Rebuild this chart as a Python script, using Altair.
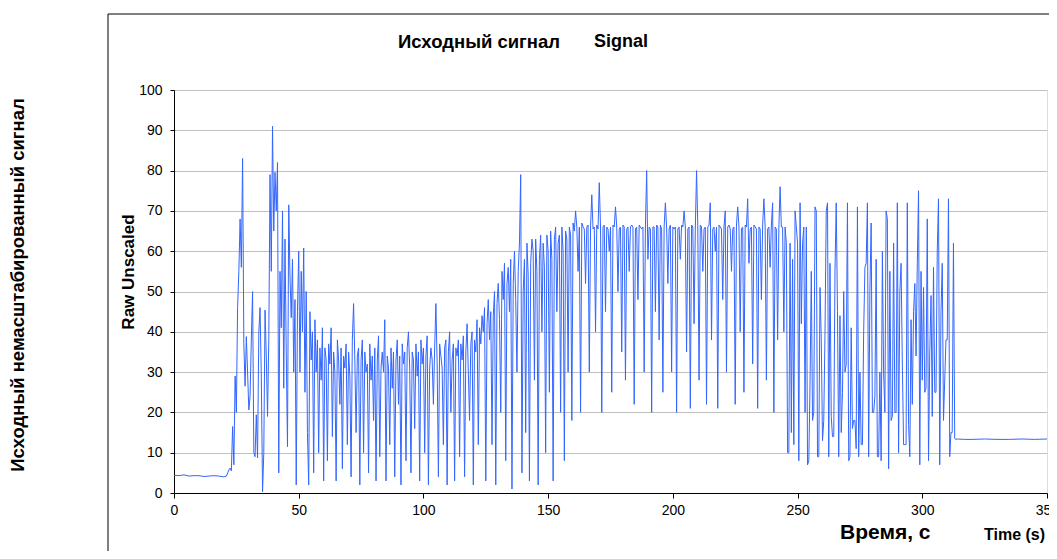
import altair as alt
import pandas as pd

# ---- data (time in s, raw value) ----
# flat start and first small bumps
start_t = [0, 2, 4, 6, 8, 10, 12, 14, 16, 18, 20, 21, 22, 22.5, 23, 23.5]
start_v = [4.4, 4.3, 4.5, 4.2, 4.3, 4.3, 4.1, 4.2, 4.3, 4.2, 4.0, 4.2, 5.7, 6.2, 5.5, 16.5]

# dense part, sampled every 0.5 s, each list covers 10 s starting at the given time
v024 = [7, 29, 20, 46, 55, 68, 56, 83, 37, 26.5, 38.8, 30, 20.6, 24, 38, 50, 10, 9, 19.4, 8.7]
v034 = [39.7, 46, 29, 0.3, 10, 45.4, 34, 19, 38, 79, 55, 91, 65, 79.6, 70, 82, 5, 55, 41, 70]
v044 = [26, 63, 35, 11.5, 71.5, 54, 43.5, 58, 30, 48, 2, 45, 60, 30, 55, 40, 60.8, 25, 50, 15]
v054 = [2, 45, 33, 40, 5, 43, 30, 38, 10, 36, 28, 41, 3, 36, 33, 8, 37, 32, 41, 14]
v064 = [35, 30, 3, 38, 33, 22, 36, 6, 34, 31, 37, 12, 35, 29, 4, 38, 47, 33, 15, 34]
v074 = [36, 2, 33, 38, 10, 35, 30, 32, 5, 37, 28, 34, 18, 36, 3, 33, 39, 9, 31, 35]
v084 = [30, 43, 3, 34, 31, 12, 36, 26, 35, 4, 33, 38, 22, 34, 2, 37, 32, 35, 8, 36]
v094 = [40, 31, 5, 35, 33, 16, 37, 29, 35, 3, 38, 32, 36, 10, 34, 39, 2, 31, 36, 33]
v104 = [22, 36, 47, 32, 4, 37, 34, 31, 12, 36, 38, 2, 35, 40, 20, 33, 37, 3, 36, 34]
v114 = [38, 9, 37, 33, 39, 4, 35, 42, 30, 18, 37, 40, 2, 38, 35, 43, 12, 41, 37, 44]
v124 = [40, 46, 3, 42, 48, 38, 45, 12, 44, 50, 2, 47, 52, 43, 20, 55, 48, 57, 8, 52]
v134 = [56, 45, 58, 1, 52, 60, 48, 30, 55, 62, 79, 5, 50, 58, 15, 62, 54, 3, 57, 63]
v144 = [60, 28, 63, 55, 2, 58, 64, 40, 62, 56, 10, 64, 60, 25, 65, 58, 3, 63, 66, 45]
v154 = [62, 64, 20, 66, 60, 8, 65, 63, 30, 66, 64, 18, 67, 65, 70, 66, 55, 66, 20, 67]
v164 = [66, 65.5, 52, 66, 66.5, 30, 66, 74, 65.5, 66, 40, 66.5, 65.5, 77, 66, 20, 66, 66.5, 45, 66]
v174 = [65.5, 60, 66, 25, 66.5, 66, 71, 66, 50, 65.5, 66, 35, 66.5, 66, 28, 65.5, 66, 55, 66, 66.5]
v184 = [66, 22, 65.5, 66, 48, 66.5, 66, 65.5, 66, 30, 66, 80, 58, 66, 65.5, 20, 66, 66, 45, 66.5]
v194 = [66, 38, 66.5, 65.5, 25, 66, 72, 66, 52, 65.5, 66.5, 30, 66, 65.5, 66, 20, 65.5, 66, 58, 66.5]
v204 = [66, 70, 66, 35, 65.5, 66, 21, 66.5, 66, 42, 65.5, 80, 66, 28, 66.5, 66, 55, 65.5, 66, 22]
v214 = [66, 66.5, 72, 38, 65.5, 66, 60, 66, 21, 66.5, 66, 65.5, 48, 66, 70, 30, 66, 66.5, 65.5, 55]
v224 = [65.5, 66, 22, 66.5, 71, 66, 40, 65.5, 66, 25, 66.5, 66, 73, 57, 65.5, 66, 32, 66.5, 66, 65.5]
v234 = [21, 66, 65.5, 48, 66.5, 73, 66, 28, 65.5, 66, 56, 66.5, 72, 20, 66, 65.5, 38, 66, 76, 66]
v244 = [66, 40, 66, 62, 10, 10, 62, 15, 58, 12, 70, 66, 62, 8, 72, 42, 62, 66, 20, 66]
v254 = [7, 8, 27, 55, 18, 20, 71, 70, 9, 9, 51, 38, 13, 18, 40, 70, 72, 9, 57, 19]
v264 = [14, 14, 55, 72, 45, 9, 44, 15, 25, 50, 30, 32, 72, 8, 9, 41, 16, 18, 18, 11]
v274 = [71, 9, 30, 12, 12, 40, 56, 57, 72, 9, 50, 67, 20, 20, 24, 58, 9, 9, 30, 8]
v284 = [60, 30, 20, 70, 68, 6, 55, 18, 19, 62, 20, 20, 72, 10, 50, 57, 32, 12, 12, 12]
v294 = [72, 17, 9, 43, 22, 45, 52, 34, 57, 75, 7, 55, 28, 51, 25, 26, 68, 8, 35, 49]
v304 = [19, 56, 25, 25, 60, 73, 7, 45, 57, 18, 28, 38, 38, 73, 9, 15, 15, 62, 13.5, 13.3]

# flat end
end_t = [314, 317, 320, 325, 330, 335, 340, 345, 350]
end_v = [13.4, 13.3, 13.3, 13.4, 13.3, 13.3, 13.4, 13.3, 13.4]

segments = [
    (24, v024), (34, v034), (44, v044), (54, v054), (64, v064), (74, v074),
    (84, v084), (94, v094), (104, v104), (114, v114), (124, v124), (134, v134),
    (144, v144), (154, v154), (164, v164), (174, v174), (184, v184), (194, v194),
    (204, v204), (214, v214), (224, v224), (234, v234), (244, v244), (254, v254),
    (264, v264), (274, v274), (284, v284), (294, v294), (304, v304),
]

x_ticks = [0, 50, 100, 150, 200, 250, 300, 350]
y_ticks = [0, 10, 20, 30, 40, 50, 60, 70, 80, 90, 100]

T, V = list(start_t), list(start_v)
for t0, vals in segments:
    for i, val in enumerate(vals):
        T.append(t0 + 0.5 * i)
        V.append(val)
T += end_t
V += end_v
df = pd.DataFrame({"t": T, "v": V})

FONT = "Liberation Sans"
W, H = 873, 403

line = alt.Chart(df).mark_line(color="#3366FF", strokeWidth=1).encode(
    x=alt.X("t:Q", scale=alt.Scale(domain=[0, 350], nice=False, zero=False),
            axis=alt.Axis(values=x_ticks, title=None, grid=False, labelFontSize=14,
                          labelFont=FONT, labelColor="#000000", domainColor="#000000",
                          tickColor="#000000", tickSize=5, labelPadding=5,
                          labelFlush=False, labelOverlap=False)),
    y=alt.Y("v:Q", scale=alt.Scale(domain=[0, 100], nice=False),
            axis=alt.Axis(values=y_ticks, title=None, grid=True, gridColor="#c0c0c0",
                          labelFontSize=14, labelFont=FONT, labelColor="#000000",
                          domainColor="#000000", tickColor="#000000", tickSize=4,
                          labelPadding=8, labelOverlap=False)),
)

one = pd.DataFrame({"a": [0]})

def label(text, x, y, size, angle=0, align="left"):
    return alt.Chart(one).mark_text(
        text=text, font=FONT, fontSize=size, fontWeight="bold", color="#000000",
        angle=angle, align=align, baseline="middle",
    ).encode(x=alt.value(x), y=alt.value(y))

frame_left = alt.Chart(one).mark_rule(color="#000000", strokeWidth=1).encode(
    x=alt.value(-66), y=alt.value(-76), y2=alt.value(480))
frame_top = alt.Chart(one).mark_rule(color="#000000", strokeWidth=1).encode(
    x=alt.value(-66), x2=alt.value(900), y=alt.value(-76))

chart = alt.layer(
    line,
    frame_left,
    frame_top,
    label("Исходный немасштабированный сигнал", -156, 195, 18.5, angle=270, align="center"),
    label("Исходный сигнал", 224, -48, 18.5),
    label("Signal", 420, -48, 18),
    label("Raw Unscaled", -45, 182, 17, angle=270, align="center"),
    label("Время, с", 666, 443, 21),
    label("Time (s)", 810, 445, 16),
).properties(
    width=W, height=H,
    autosize=alt.AutoSizeParams(type="none"),
    padding={"left": 166, "top": 82, "right": 2, "bottom": 58},
).configure_view(stroke="#b0b0b0", strokeWidth=1).configure(background="#ffffff")

chart.save("out.html", embed_options={"renderer": "svg", "actions": False})
